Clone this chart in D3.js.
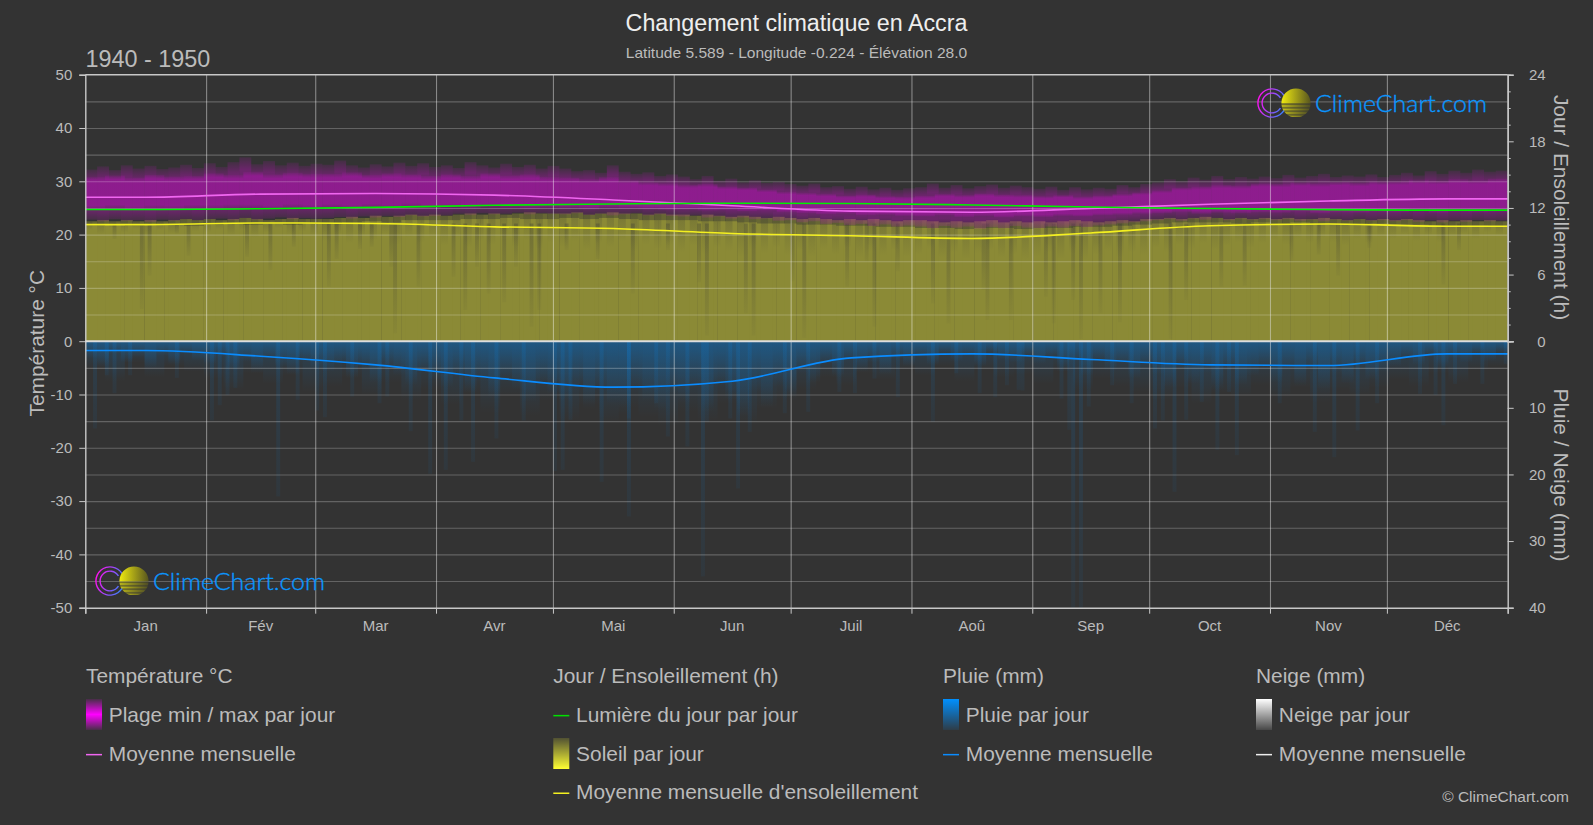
<!DOCTYPE html>
<html>
<head>
<meta charset="utf-8">
<title>Changement climatique en Accra</title>
<script src="https://cdn.jsdelivr.net/npm/d3@7"></script>
<style>
  html, body { margin: 0; padding: 0; background: #333; overflow: hidden; }
  svg { display: block; font-family: "Liberation Sans", Arial, sans-serif; }
  .axis path, .axis line { stroke: #c8c8c8; }
  .axis text { fill: #bbb; font-size: 15px; font-family: "Liberation Sans", Arial, sans-serif; }
  .grid path { display: none; }
  .leg { fill: #bbb; font-size: 20.9px; }
</style>
</head>
<body>
<script>
// tick labels
const monthLabels = ['Jan', 'Fév', 'Mar', 'Avr', 'Mai', 'Jun', 'Juil', 'Aoû', 'Sep', 'Oct', 'Nov', 'Déc']
const tempTicks = [-50, -40, -30, -20, -10, 0, 10, 20, 30, 40, 50]
const gridTicks = [-45, -40, -35, -30, -25, -20, -15, -10, -5, 5, 10, 15, 20, 25, 30, 35, 40, 45]
const sunTicks = [0, 6, 12, 18, 24]
const sunMinorTicks = [1.5, 3, 4.5, 7.5, 9, 10.5, 13.5, 15, 16.5, 19.5, 21, 22.5]
const rainTicks = [10, 20, 30, 40]

// monthly means
const tempMean = [27.0, 27.6, 27.7, 27.4, 26.5, 25.4, 24.4, 24.2, 24.9, 25.7, 26.3, 26.7]
const daylightMean = [11.86, 11.93, 12.05, 12.24, 12.36, 12.43, 12.4, 12.27, 12.08, 11.95, 11.85, 11.8]
const sunMean = [10.5, 10.65, 10.6, 10.3, 10.15, 9.7, 9.5, 9.25, 9.75, 10.4, 10.55, 10.35]
const rainMean = [1.4, 2.25, 3.55, 5.5, 6.9, 6.0, 2.5, 1.9, 2.75, 3.55, 3.65, 1.9]

// temperature spread, °C, read along the year
const tempPeak = [
  32.2, 32.8, 32.1, 33.0, 32.4, 32.9, 32.3, 32.6, 33.1, 32.5,
  33.4, 32.7, 33.6, 34.5, 33.2, 33.8, 33.0, 33.5, 32.9, 33.3,
  33.1, 33.9, 33.0, 32.6, 33.2, 32.8, 33.5, 32.9, 33.4, 32.7,
  33.0, 32.5, 33.6, 33.0, 32.6, 33.3, 32.7, 33.1, 32.4, 32.9,
  32.4, 31.9, 32.1, 31.6, 33.0, 31.8, 31.4, 31.7, 31.0, 31.3,
  30.9, 30.4, 31.0, 30.1, 30.5, 29.8, 30.2, 29.7, 29.9, 29.5,
  29.2, 29.6, 28.9, 29.1, 28.6, 29.0, 28.5, 28.8, 28.4, 28.7,
  28.9, 29.6, 28.8, 29.3, 28.7, 29.1, 29.4, 28.8, 29.2, 28.9,
  28.6, 29.0, 28.4, 28.9, 28.5, 28.8, 28.6, 29.3, 28.9, 29.5,
  29.8, 30.4, 30.0, 30.7, 30.3, 31.0, 30.4, 30.8, 30.5, 30.9,
  30.6, 31.2, 30.7, 31.0, 31.4, 30.8, 31.1, 30.9, 31.3, 30.8,
  31.2, 31.6, 31.1, 31.9, 31.4, 32.0, 31.6, 32.2, 31.8, 32.0
]
const tempTrough = [
  22.8, 22.5, 22.9, 22.6, 22.7, 22.4, 22.8, 22.6, 22.9, 22.7,
  22.9, 23.0, 22.7, 23.1, 22.8, 23.0, 23.2, 22.9, 23.1, 23.0,
  23.1, 23.3, 23.0, 23.4, 23.2, 23.5, 23.3, 23.6, 23.4, 23.5,
  23.6, 23.9, 23.7, 24.0, 23.8, 23.9, 24.1, 23.8, 24.0, 23.9,
  23.8, 24.0, 23.7, 23.9, 23.6, 23.8, 24.0, 23.6, 23.8, 23.5,
  23.4, 23.6, 23.2, 23.4, 23.0, 23.2, 22.9, 23.0, 22.6, 22.7,
  22.3, 22.5, 22.0, 22.2, 21.8, 22.0, 21.6, 21.9, 21.5, 21.7,
  21.5, 21.2, 21.6, 21.3, 21.5, 21.1, 21.4, 21.2, 21.6, 21.3,
  21.2, 21.5, 21.3, 21.6, 21.4, 21.7, 21.9, 22.1, 22.3, 22.5,
  22.7, 22.9, 22.6, 23.0, 22.8, 23.1, 22.7, 23.0, 22.8, 22.9,
  22.7, 22.9, 22.6, 22.8, 22.5, 22.8, 22.6, 22.9, 22.6, 22.7,
  22.5, 22.7, 22.4, 22.6, 22.3, 22.6, 22.4, 22.7, 22.5, 22.6
]
const tempUpper = [
  30.8, 31.1, 30.7, 31.2, 30.9, 31.0,
  31.5, 31.2, 31.8, 31.3, 31.6, 31.4,
  31.4, 31.7, 31.2, 31.5, 31.3, 31.0,
  31.3, 31.0, 31.5, 31.1, 31.3, 30.8,
  30.7, 30.4, 30.8, 30.2, 29.8, 29.6,
  29.3, 29.5, 29.0, 28.8, 28.4, 28.0,
  27.8, 27.6, 27.3, 27.5, 27.2, 27.1,
  27.3, 27.6, 27.4, 27.7, 27.5, 27.4,
  27.2, 27.4, 27.1, 27.3, 27.6, 27.9,
  28.3, 28.8, 29.0, 29.3, 29.2, 29.6,
  29.5, 29.8, 29.6, 29.9, 29.7, 30.0,
  30.0, 30.3, 30.1, 30.4, 30.2, 30.5
]
const tempLower = [
  24.7, 24.9, 24.6, 24.8, 24.7, 24.9,
  24.8, 25.0, 24.9, 24.7, 25.0, 24.8,
  25.0, 24.8, 25.1, 24.9, 25.2, 25.0,
  25.1, 24.9, 25.2, 25.0, 24.8, 25.0,
  24.9, 24.7, 25.0, 24.8, 24.7, 24.6,
  24.7, 24.5, 24.6, 24.4, 24.5, 24.2,
  24.0, 23.8, 23.9, 23.6, 23.7, 23.5,
  23.4, 23.6, 23.3, 23.5, 23.2, 23.4,
  23.3, 23.5, 23.4, 23.6, 23.7, 23.9,
  24.0, 24.2, 23.9, 24.1, 24.0, 24.2,
  24.1, 24.3, 24.0, 24.2, 24.1, 24.3,
  24.2, 24.4, 24.1, 24.3, 24.2, 24.3
]

// sunshine, hours, read along the year
const sunTop = [
  10.8, 10.9, 10.8, 10.9, 10.8, 10.9, 10.8, 10.9, 11.0, 10.9,
  11.0, 10.9, 11.0, 11.1, 11.0, 10.9, 11.0, 11.1, 11.0, 11.0,
  11.0, 11.1, 11.2, 11.1, 11.3, 11.2, 11.3, 11.4, 11.3, 11.4,
  11.3, 11.4, 11.5, 11.4, 11.5, 11.4, 11.5, 11.6, 11.5, 11.5,
  11.5, 11.6, 11.4, 11.5, 11.6, 11.5, 11.5, 11.4, 11.5, 11.4,
  11.4, 11.3, 11.4, 11.3, 11.2, 11.3, 11.2, 11.1, 11.2, 11.1,
  11.0, 11.1, 11.0, 10.9, 11.0, 10.9, 11.0, 10.9, 10.8, 10.9,
  10.9, 10.8, 10.7, 10.8, 10.7, 10.8, 10.9, 10.7, 10.8, 10.7,
  10.8, 10.7, 10.8, 10.9, 10.8, 10.7, 10.8, 10.9, 10.8, 11.0,
  11.0, 11.1, 11.0, 11.1, 11.2, 11.1, 11.0, 11.1, 11.0, 11.1,
  11.0, 11.1, 11.0, 11.0, 11.1, 11.0, 10.9, 11.0, 10.9, 11.0,
  10.9, 11.0, 10.9, 10.8, 10.9, 10.8, 10.9, 10.8, 10.9, 10.8
]
const sunCore = [
  10.4, 10.5, 10.4, 10.5, 10.5, 10.4,
  10.5, 10.6, 10.5, 10.6, 10.5, 10.6,
  10.6, 10.7, 10.8, 10.7, 10.9, 10.9,
  10.9, 11.0, 11.0, 11.1, 11.0, 11.0,
  11.1, 11.0, 11.1, 11.0, 10.9, 10.9,
  10.9, 10.8, 10.8, 10.7, 10.6, 10.6,
  10.5, 10.5, 10.4, 10.4, 10.3, 10.3,
  10.2, 10.2, 10.1, 10.2, 10.2, 10.1,
  10.2, 10.2, 10.3, 10.3, 10.4, 10.5,
  10.6, 10.7, 10.7, 10.7, 10.6, 10.7,
  10.6, 10.7, 10.6, 10.6, 10.5, 10.6,
  10.5, 10.5, 10.4, 10.4, 10.4, 10.3
]
const sunEdge = [
  10.0, 9.6, 10.2, 9.8, 10.1, 9.4, 10.0, 9.7, 10.2, 9.9,
  9.8, 10.1, 9.5, 10.0, 9.3, 9.8, 10.2, 9.5, 9.9, 9.4,
  9.0, 9.6, 8.8, 9.4, 9.1, 9.6, 8.7, 9.3, 8.9, 9.2,
  8.6, 9.2, 8.4, 9.0, 8.7, 9.3, 8.5, 9.1, 8.3, 8.9,
  8.5, 9.0, 8.2, 8.8, 8.4, 9.0, 8.1, 8.7, 8.3, 8.6,
  8.0, 8.6, 7.8, 8.4, 8.1, 7.6, 8.3, 7.9, 8.4, 7.7,
  8.2, 7.6, 8.3, 7.8, 8.4, 7.5, 8.1, 7.7, 8.2, 7.6,
  7.8, 8.3, 7.5, 8.0, 7.4, 7.9, 8.2, 7.5, 7.8, 7.3,
  7.6, 8.0, 7.4, 7.9, 7.3, 7.8, 8.1, 7.5, 8.0, 7.7,
  8.4, 8.0, 8.7, 8.3, 8.8, 8.2, 8.6, 8.9, 8.4, 8.8,
  9.1, 8.7, 9.2, 8.8, 9.3, 8.9, 8.6, 9.2, 8.8, 9.3,
  9.2, 9.6, 9.0, 9.5, 8.9, 9.4, 9.7, 9.2, 9.8, 9.5
]
// [day of year, lowest sunshine hours] of the long dark streaks
const sunStreaks = [
  [7, 9.2], [14, 2.9], [16, 5.9], [23, 9.7], [26, 7.7], [41, 7.6], [47, 6.4], [53, 8.5],
  [62, 4.9], [64, 7.4], [70, 8.3], [73, 8.5], [78, 6.7], [79, 0.7], [85, 4.9], [94, 5.8],
  [97, 2.8], [100, 6.7], [103, 4.3], [107, 3.5], [110, 6.7], [114, 1.3], [116, 2.8],
  [123, 8.2], [131, 7.4], [140, 4.3], [149, 8.2], [157, 5.3], [159, 0.5], [169, 2.5],
  [171, 0.5], [181, 5.4], [184, 0.3], [195, 4.9], [200, 7.2], [202, 1.3], [208, 6.3],
  [217, 3.4], [221, 1.6], [230, 4.6], [231, 1.9], [237, 1.9], [246, 4.0], [248, 1.6],
  [253, 3.7], [255, 0.2], [260, 2.5], [265, 1.7], [278, 0.2], [282, 3.7], [291, 4.9],
  [297, 5.0], [309, 7.2], [316, 7.8], [321, 5.9], [329, 8.4], [348, 5.1], [352, 8.2]
]

// rain depth, mm, read along the year
const rainBand = [
  2.6, 3.8, 1.9, 3.2, 2.4, 4.1, 2.2, 3.5, 1.8, 2.9,
  3.4, 2.3, 4.4, 3.0, 4.8, 2.6, 3.9, 5.0, 2.9, 4.2,
  4.6, 3.3, 5.6, 4.0, 6.2, 3.8, 5.1, 6.6, 4.4, 5.8,
  6.9, 5.0, 7.8, 6.0, 8.6, 5.4, 7.2, 9.1, 6.2, 8.0,
  8.9, 6.5, 10.2, 7.4, 9.6, 11.0, 7.0, 9.0, 10.4, 7.8,
  9.2, 7.0, 10.6, 6.6, 8.8, 11.2, 7.6, 10.0, 6.8, 8.4,
  4.8, 6.2, 3.4, 5.4, 2.8, 4.6, 3.2, 5.0, 2.6, 3.8,
  2.4, 3.6, 1.8, 3.0, 2.2, 3.8, 1.6, 2.8, 3.2, 2.0,
  3.4, 2.2, 4.6, 3.0, 5.2, 2.8, 4.4, 3.4, 5.6, 3.6,
  5.0, 7.0, 4.2, 6.4, 4.8, 7.4, 4.4, 6.6, 5.2, 4.0,
  6.2, 4.4, 6.8, 4.0, 7.2, 4.8, 6.4, 3.8, 5.8, 4.6,
  3.8, 2.4, 3.6, 2.0, 4.2, 2.6, 3.2, 1.8, 3.0, 1.6
]
const rainFringe = [
  4.2, 6.0, 3.2, 5.4, 3.8, 4.6,
  5.6, 7.4, 4.8, 6.4, 5.2, 7.6,
  6.8, 5.4, 8.2, 6.2, 9.0, 7.2,
  9.6, 7.8, 10.8, 8.4, 11.2, 9.0,
  11.8, 9.6, 12.4, 10.0, 11.4, 12.8,
  10.6, 12.0, 9.4, 12.6, 10.2, 9.0,
  7.2, 5.4, 6.6, 4.8, 5.8, 4.4,
  5.2, 3.8, 6.0, 4.4, 5.4, 5.0,
  6.4, 4.6, 7.2, 5.6, 6.8, 7.6,
  8.8, 7.0, 9.4, 7.8, 8.4, 6.6,
  8.6, 7.0, 9.2, 7.4, 8.2, 7.0,
  5.8, 6.8, 4.8, 6.2, 4.4, 3.8
]
// [day of year, mm] of the long rain streaks
const rainStreaks = [
  [2, 13.1], [5, 5.1], [7, 7.8], [11, 5.1], [23, 5.5], [32, 11.9], [34, 9.6], [36, 8.1],
  [38, 7.0], [49, 23.3], [54, 8.8], [59, 10.4], [61, 11.4], [68, 8.3], [75, 9.3], [77, 8.3],
  [83, 13.5], [88, 19.9], [92, 19.3], [96, 11.9], [99, 18.1], [105, 14.6], [112, 11.9],
  [120, 19.5], [122, 19.3], [124, 11.8], [132, 21.1], [139, 26.3], [139, 11.6], [146, 9.3],
  [149, 14.3], [154, 15.8], [158, 35.3], [159, 12.1], [165, 11.6], [167, 22.1], [170, 13.6],
  [179, 10.8], [185, 10.6], [193, 7.6], [197, 7.8], [202, 5.6], [208, 8.4], [217, 12.1],
  [223, 4.8], [229, 7.8], [233, 8.4], [236, 6.6], [239, 7.3], [240, 7.4], [250, 8.6],
  [252, 13.3], [253, 40], [255, 40], [257, 9.8], [263, 6.6], [268, 9.3], [274, 13.1],
  [276, 11.9], [279, 22.6], [282, 11.8], [286, 9.1], [290, 16.3], [293, 7.6], [295, 17.1],
  [306, 9.3], [315, 13.6], [320, 17.4], [326, 13.4], [331, 9.3], [342, 7.9], [346, 8.1],
  [348, 12.6], [351, 6.4], [358, 6.4], [364, 3.4]
]

const width = 1593
const height = 825
const plotLeft = 85.3
const plotRight = 1507.7
const plotTop = 74.7
const plotBottom = 607.7
const zero = 341.2

const svg = d3.select('body').append('svg').attr('width', width).attr('height', height)
const defs = svg.append('defs')

// one non leap year, month edges come out of the time scale
const monthStarts = d3.range(12).map(m => new Date(Date.UTC(2023, m, 1)))
const yearEnd = new Date(Date.UTC(2024, 0, 1))
const x = d3.scaleUtc().domain([monthStarts[0], yearEnd]).range([plotLeft, plotRight])
const monthMid = m => new Date((+monthStarts[m] + +(monthStarts[m + 1] || yearEnd)) / 2)
const dayX = d3.scaleLinear().domain([0, 365]).range([plotLeft, plotRight])

const yTemp = d3.scaleLinear().domain([-50, 50]).range([plotBottom, plotTop])
const ySun = d3.scaleLinear().domain([0, 24]).range([zero, plotTop])
const yRain = d3.scaleLinear().domain([0, 40]).range([zero, plotBottom])

// vertical fades, each runs over the height of the bar it fills
const gradient = (id, stops) => {
  const g = defs.append('linearGradient').attr('id', id).attr('x1', 0).attr('x2', 0).attr('y1', 0).attr('y2', 1)
  stops.forEach(s => g.append('stop').attr('offset', s[0]).attr('stop-color', s[1]).attr('stop-opacity', s[2]))
}
gradient('tempOuter', [[0, '#ff00ff', 0.08], [0.2, '#ff00ff', 0.27], [0.8, '#ff00ff', 0.27], [1, '#ff00ff', 0.1]])
gradient('tempInner', [[0, '#ff00ff', 0.05], [0.12, '#ff00ff', 0.24], [0.88, '#ff00ff', 0.24], [1, '#ff00ff', 0.05]])
gradient('sunEdgeFade', [[0, '#333', 0.22], [1, '#333', 0]])
gradient('sunStreakFade', [[0, '#333', 0.3], [1, '#333', 0.04]])
gradient('rainBandFade', [[0, '#0090ff', 0.26], [1, '#0090ff', 0]])
gradient('rainFringeFade', [[0, '#0090ff', 0.18], [1, '#0090ff', 0]])
gradient('rainStreakFade', [[0, '#0090ff', 0.13], [1, '#0090ff', 0.05]])
gradient('legTemp', [[0, '#ff00ff', 0.1], [0.5, '#ff00ff', 1], [1, '#ff00ff', 0.1]])
gradient('legSun', [[0, '#ffff33', 0.15], [1, '#ffff33', 1]])
gradient('legRain', [[0, '#0090ff', 1], [1, '#0090ff', 0.1]])
gradient('legSnow', [[0, '#fff', 1], [1, '#fff', 0.1]])

// evenly spread bars over the year, values go from base to value
const bars = (g, values, y, base, fill, opacity = 1, share = 1) => {
  const band = d3.scaleBand().domain(d3.range(values.length)).range([plotLeft, plotRight])
  g.append('g').attr('fill', fill).attr('opacity', opacity)
    .selectAll('rect').data(values).join('rect')
    .attr('x', (d, i) => band(i))
    .attr('width', band.bandwidth() * share)
    .attr('y', (d, i) => Math.min(y(d), y(base(i))))
    .attr('height', (d, i) => Math.abs(y(d) - y(base(i))))
}

const marks = svg.append('g')

// sunshine
bars(marks, sunCore, ySun, () => 0, '#8b8a36')
bars(marks, sunTop, ySun, () => 0, '#8b8a36', 0.6)
bars(marks, sunEdge, ySun, i => sunTop[i], 'url(#sunEdgeFade)', 1, 0.6)
marks.append('g').selectAll('rect').data(sunStreaks).join('rect')
  .attr('x', d => dayX(d[0]))
  .attr('width', dayX(1) - dayX(0))
  .attr('y', ySun(10.6))
  .attr('height', d => ySun(d[1]) - ySun(10.6))
  .attr('fill', 'url(#sunStreakFade)')

// temperature
bars(marks, tempPeak, yTemp, i => tempTrough[i], 'url(#tempOuter)')
bars(marks, tempUpper, yTemp, i => tempLower[i], 'url(#tempInner)')

// rain
bars(marks, rainFringe, yRain, () => 0, 'url(#rainFringeFade)')
bars(marks, rainBand, yRain, () => 0, 'url(#rainBandFade)')
marks.append('g').selectAll('rect').data(rainStreaks).join('rect')
  .attr('x', d => dayX(d[0]))
  .attr('width', dayX(1) - dayX(0))
  .attr('y', yRain(0))
  .attr('height', d => yRain(d[1]) - yRain(0))
  .attr('fill', 'url(#rainStreakFade)')

// grid sits on top of the bars
svg.append('g').attr('class', 'grid').attr('transform', `translate(${plotLeft},0)`)
  .call(d3.axisLeft(yTemp).tickValues(gridTicks).tickSize(-(plotRight - plotLeft)).tickFormat(''))
  .selectAll('line').attr('stroke', '#fff').attr('stroke-opacity', 0.24).attr('stroke-width', 1.1)
svg.append('g').attr('class', 'grid').attr('transform', `translate(0,${plotBottom})`)
  .call(d3.axisBottom(x).tickValues(monthStarts.slice(1)).tickSize(-(plotBottom - plotTop)).tickFormat(''))
  .selectAll('line').attr('stroke', '#fff').attr('stroke-opacity', 0.42).attr('stroke-width', 1.1)

// monthly lines, flat out to both ends of the year
const meanLine = (values, y, color) => {
  const pts = [[monthStarts[0], values[0]]]
    .concat(values.map((v, i) => [monthMid(i), v]))
    .concat([[yearEnd, values[11]]])
  const line = d3.line().x(d => x(d[0])).y(d => y(d[1])).curve(d3.curveMonotoneX)
  svg.append('path').attr('d', line(pts)).attr('fill', 'none').attr('stroke', color).attr('stroke-width', 1.6)
}
meanLine(tempMean, yTemp, '#f066f0')
meanLine(daylightMean, ySun, '#00f000')
meanLine(sunMean, ySun, '#f4f020')
meanLine(rainMean, yRain, '#0a8cff')

// axes
svg.append('g').attr('class', 'axis').attr('transform', `translate(${plotLeft},0)`)
  .call(d3.axisLeft(yTemp).tickValues(tempTicks).tickSize(6).tickPadding(7).tickFormat(String))
const bottomAxis = svg.append('g').attr('class', 'axis').attr('transform', `translate(0,${plotBottom})`)
  .call(d3.axisBottom(x).tickValues(monthStarts.concat([yearEnd])).tickSize(6).tickFormat(''))
bottomAxis.selectAll('.month').data(monthLabels).join('text').attr('class', 'month')
  .attr('x', (d, i) => x(monthMid(i)))
  .attr('y', 23.5)
  .attr('text-anchor', 'middle')
  .text(d => d)
svg.append('g').attr('class', 'axis').attr('transform', `translate(${plotRight},0)`)
  .call(d3.axisRight(ySun).tickValues(sunTicks).tickSize(6).tickPadding(16))
  .selectAll('text').attr('text-anchor', 'end').attr('dx', 16)
svg.append('g').attr('class', 'axis').attr('transform', `translate(${plotRight},0)`)
  .call(d3.axisRight(ySun).tickValues(sunMinorTicks).tickSize(3).tickFormat(''))
svg.append('g').attr('class', 'axis').attr('transform', `translate(${plotRight},0)`)
  .call(d3.axisRight(yRain).tickValues(rainTicks).tickSize(6).tickPadding(16))
  .selectAll('text').attr('text-anchor', 'end').attr('dx', 16)
svg.selectAll('.axis path').attr('stroke-width', 1.4)

svg.append('line').attr('x1', plotLeft).attr('x2', plotRight).attr('y1', plotTop).attr('y2', plotTop).attr('stroke', '#c8c8c8').attr('stroke-width', 1.4)
svg.append('line').attr('x1', plotLeft).attr('x2', plotRight).attr('y1', zero).attr('y2', zero).attr('stroke', '#ddd').attr('stroke-width', 2)

// titles
const label = (txt, px, py, size, color, anchor = 'start', rotate = 0) => svg.append('text')
  .attr('transform', `translate(${px},${py}) rotate(${rotate})`)
  .attr('text-anchor', anchor)
  .attr('font-size', size)
  .attr('fill', color)
  .text(txt)

label('Changement climatique en Accra', 796.5, 30.5, 23.3, '#eee', 'middle')
label('Latitude 5.589 - Longitude -0.224 - Élévation 28.0', 796.5, 57.5, 15.55, '#bbb', 'middle')
label('1940 - 1950', 85.5, 67, 23.4, '#bbb')
label('Température °C', 44, zero + 2, 20.9, '#bbb', 'middle', -90)
label('Jour / Ensoleillement (h)', 1553.5, 207.5, 20.9, '#bbb', 'middle', 90)
label('Pluie / Neige (mm)', 1553.5, 475, 20.9, '#bbb', 'middle', 90)
label('© ClimeChart.com', 1569, 802, 15.5, '#bbb', 'end')

// logo, drawn twice
const logoStripes = [0.5, 1.9, 3.3, 4.7, 6.1, 7.5, 8.9, 10.3, 11.7, 13.1]
const drawLogo = (lx, ly, id) => {
  const g = svg.append('g').attr('transform', `translate(${lx},${ly})`)
  // C shape, open towards the sun on the right
  const ring = d3.arc().startAngle(Math.PI / 2 + 0.55).endAngle(Math.PI * 2.5 - 0.55)
  const ringFill = defs.append('linearGradient').attr('id', id + 'r').attr('gradientUnits', 'userSpaceOnUse')
    .attr('x1', -14).attr('x2', 12).attr('y1', -4).attr('y2', 4)
  ringFill.append('stop').attr('offset', 0).attr('stop-color', '#ff10f0')
  ringFill.append('stop').attr('offset', 1).attr('stop-color', '#3f7cff')
  ;[[13.4, 14.8], [9.2, 10.6]].forEach(r => {
    g.append('path').attr('d', ring({ innerRadius: r[0], outerRadius: r[1] })).attr('fill', `url(#${id}r)`)
  })
  defs.append('clipPath').attr('id', id).append('circle').attr('cx', 24).attr('cy', 0).attr('r', 14.6)
  const sun = g.append('g').attr('clip-path', `url(#${id})`)
  const grad = defs.append('linearGradient').attr('id', id + 'g')
  grad.append('stop').attr('offset', 0).attr('stop-color', '#f2ec10')
  grad.append('stop').attr('offset', 1).attr('stop-color', '#55531f')
  sun.append('rect').attr('x', 9).attr('y', -15).attr('width', 30).attr('height', 15).attr('fill', `url(#${id}g)`)
  sun.selectAll('.stripe').data(logoStripes).join('rect').attr('class', 'stripe')
    .attr('x', 9).attr('y', d => d).attr('width', 30).attr('height', 0.8).attr('fill', `url(#${id}g)`)
  g.append('text').attr('x', 43).attr('y', 8.7).attr('font-family', 'Lato').attr('font-weight', 300).attr('font-size', 24)
    .attr('fill', '#0a96ff').attr('stroke', '#0a96ff').attr('stroke-width', 0.35)
    .attr('textLength', 172).attr('lengthAdjust', 'spacingAndGlyphs').text('ClimeChart.com')
}
drawLogo(1272, 103, 'logoTop')
drawLogo(110, 581, 'logoBottom')

// legend
const legendColumns = [86, 553.3, 943, 1256]
const legendHeaders = ['Température °C', 'Jour / Ensoleillement (h)', 'Pluie (mm)', 'Neige (mm)']
const legendRows = [
  [['Plage min / max par jour', 'url(#legTemp)'], ['Moyenne mensuelle', '#f066f0']],
  [['Lumière du jour par jour', '#00e000'], ['Soleil par jour', 'url(#legSun)'], ["Moyenne mensuelle d'ensoleillement", '#f4f020']],
  [['Pluie par jour', 'url(#legRain)'], ['Moyenne mensuelle', '#0a8cff']],
  [['Neige par jour', 'url(#legSnow)'], ['Moyenne mensuelle', '#eee']]
]
const rowBaselines = [721.7, 760.7, 799.3]
legendColumns.forEach((cx, c) => {
  svg.append('text').attr('class', 'leg').attr('x', cx).attr('y', 682.7).text(legendHeaders[c])
  legendRows[c].forEach((row, r) => {
    const by = rowBaselines[r]
    if (row[1].startsWith('url')) {
      svg.append('rect').attr('x', cx).attr('y', by - 22.7).attr('width', 16).attr('height', 31).attr('fill', row[1])
    } else {
      svg.append('rect').attr('x', cx).attr('y', by - 6.8).attr('width', 16).attr('height', 1.5).attr('fill', row[1])
    }
    svg.append('text').attr('class', 'leg').attr('x', cx + 22.8).attr('y', by).text(row[0])
  })
})
</script>
</body>
</html>
